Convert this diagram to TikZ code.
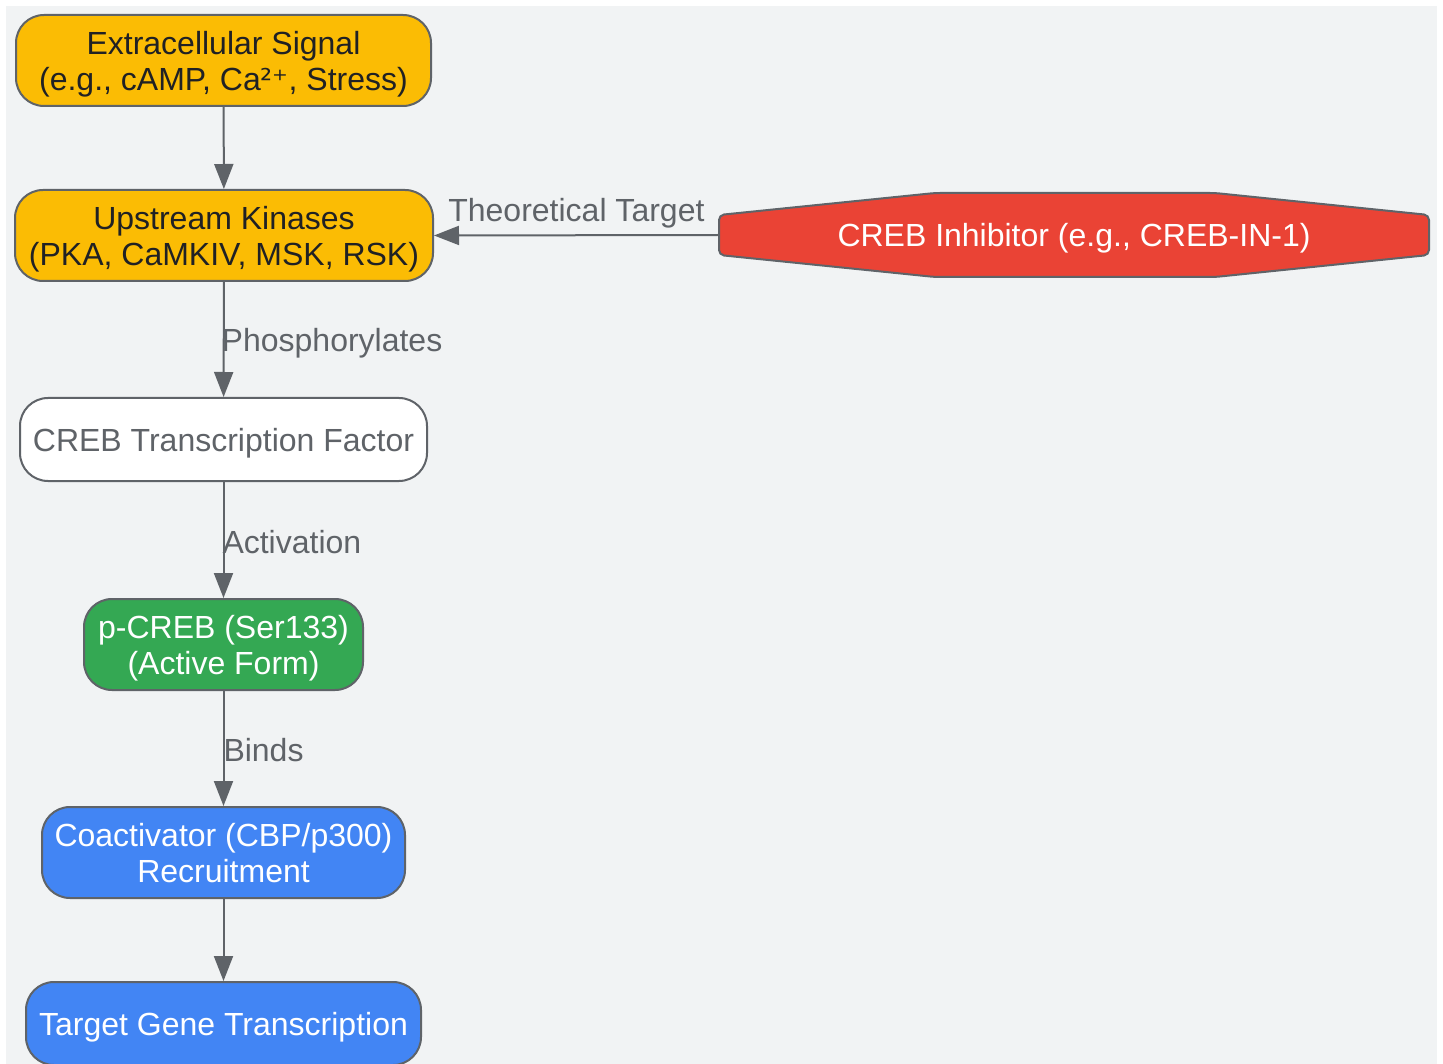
\documentclass[tikz,border=0pt]{standalone}
\usepackage{fontspec}
\setmainfont{Liberation Sans}
\newfontfamily\symfont{DejaVu Sans}
\usepackage{tikz}
\usetikzlibrary{
    calc,
    arrows.meta
}
\definecolor{bggray}{HTML}{F1F3F4}
\definecolor{edgegray}{HTML}{5F6368}
\definecolor{textdark}{HTML}{202124}
\definecolor{signalyellow}{HTML}{FBBC04}
\definecolor{inhibred}{HTML}{EA4335}
\definecolor{activegreen}{HTML}{34A853}
\definecolor{geneblue}{HTML}{4285F4}
\tikzset{
    stepnode/.style={draw=edgegray, line width=2pt, rounded corners=28pt, align=center,
        inner sep=0pt, text depth=0pt, font=\fontsize{32}{36}\selectfont},
    flow/.style={draw=edgegray, line width=2pt, -{Triangle[length=25pt,width=19pt]}},
    flow label/.style={text=edgegray, inner sep=0pt, font=\fontsize{32}{36}\selectfont}
}

\begin{document}
\begin{tikzpicture}[x=1pt, y=-1pt]
    \useasboundingbox (0,0) rectangle (1443,1064);
    \fill[bggray] (6,6) rectangle (1437,1064);

    % pathway, top to bottom
    \node[stepnode, fill=signalyellow, text=textdark, minimum width=415pt, minimum height=91pt]
        (signal) at (223.5,60.5) {Extracellular Signal\\(e.g., cAMP, Ca{\symfont\fontsize{30}{36}\selectfont ²⁺}, Stress)};
    \node[stepnode, fill=signalyellow, text=textdark, minimum width=418pt, minimum height=91pt]
        (kinases) at (224,235.5) {Upstream Kinases\\(PKA, CaMKIV, MSK, RSK)};
    \node[stepnode, fill=white, text=edgegray, minimum width=407pt, minimum height=83pt]
        (creb) at (223.5,439.5) {CREB Transcription Factor};
    \node[stepnode, fill=activegreen, text=white, minimum width=279pt, minimum height=91pt]
        (pcreb) at (223.5,644.5) {p-CREB (Ser133)\\(Active Form)};
    \node[stepnode, fill=geneblue, text=white, minimum width=363pt, minimum height=91pt]
        (coact) at (223.5,852.5) {Coactivator (CBP/p300)\\Recruitment};
    \node[stepnode, fill=geneblue, text=white, minimum width=395pt, minimum height=83pt]
        (target) at (223.5,1023.5) {Target Gene Transcription};

    % inhibitor (octagon)
    \coordinate (ic) at (1074,235);
    \draw[fill=inhibred, draw=edgegray, line width=2pt, rounded corners=5pt]
        ($(ic)+(-355,-20)$) -- ($(ic)+(-139,-42)$) -- ($(ic)+(141,-42)$) -- ($(ic)+(355,-20)$)
        -- ($(ic)+(355,20)$) -- ($(ic)+(141,42)$) -- ($(ic)+(-139,42)$) -- ($(ic)+(-355,20)$) -- cycle;
    \node[inner sep=0pt, minimum width=710pt, minimum height=84pt, text=white, text depth=0pt,
        font=\fontsize{32}{36}\selectfont] (inhib) at (ic) {CREB Inhibitor (e.g., CREB-IN-1)};

    \draw[flow] (signal) -- (kinases);
    \draw[flow] (inhib.west) -- node[flow label, anchor=south, yshift=6pt] (tlabel) {Theoretical Target} (kinases.east);
    \draw[flow] (kinases) -- node[flow label, anchor=west, xshift=-3pt, yshift=-4pt] (plabel) {Phosphorylates} (creb);
    \draw[flow] (creb) -- node[flow label, anchor=west, xshift=-2pt, yshift=-2pt] (alabel) {Activation} (pcreb);
    \draw[flow] (pcreb) -- node[flow label, anchor=west, xshift=-1pt, yshift=-2pt] (blabel) {Binds} (coact);
    \draw[flow] (coact) -- (target);
\end{tikzpicture}
\end{document}
